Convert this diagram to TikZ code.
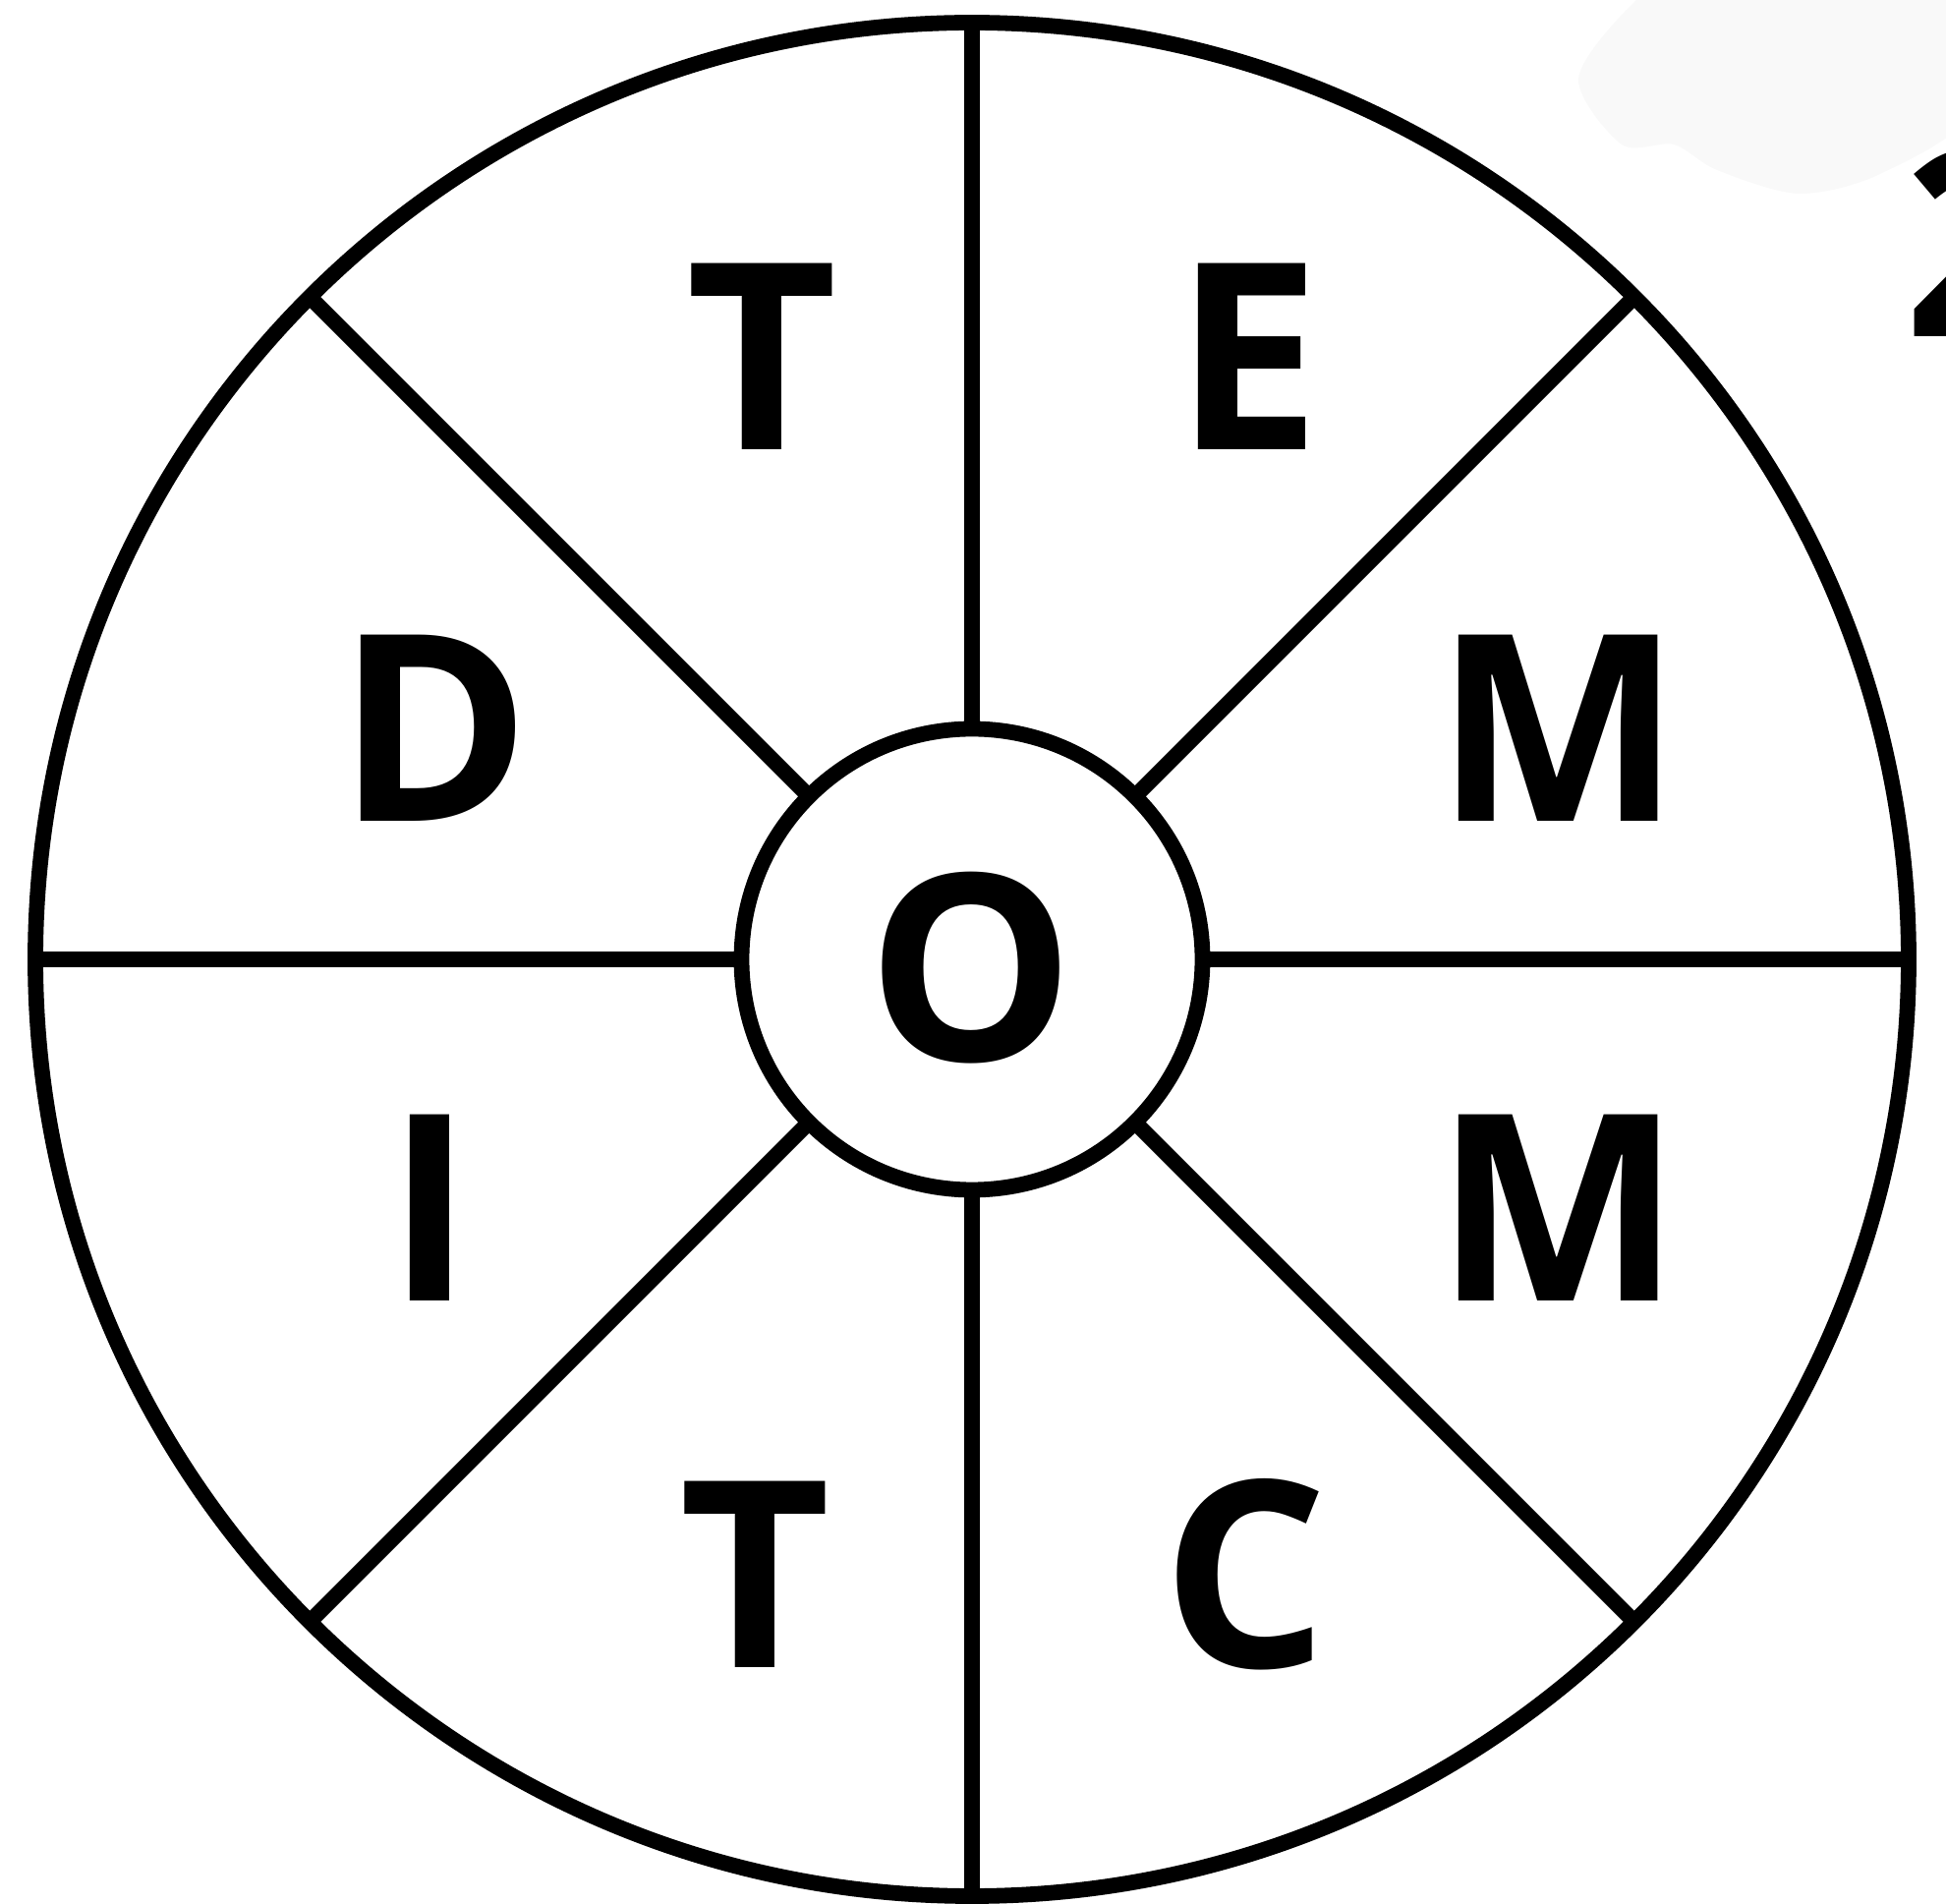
\documentclass[tikz,border=0pt]{standalone}
\usepackage{fontspec}
\setmainfont{Open Sans}
\usepackage{tikz}
\usetikzlibrary{positioning}

\begin{document}
\begin{tikzpicture}[
  x=0.1mm, y=0.1mm,
  ring/.style={circle,draw,line width=4.5pt,outer sep=0pt,inner sep=0pt},
  ray/.style={fill=black,rectangle,minimum width=71.85mm,minimum height=4.5pt,inner sep=0pt,outer sep=0pt},
  letter/.style={font=\fontsize{75.5}{75.5}\selectfont\bfseries,anchor=base,inner sep=0pt},
  smudge/.style={fill=black!2.5}
]
  \useasboundingbox (0,0) rectangle (1980,1937);
  \begin{scope}
  \clip (0,0) rectangle (1980,1937);
  % faint smudge top right
  \fill[smudge] plot[smooth cycle] coordinates {(1660,1932) (1606,1857) (1650,1790) (1703,1790)
    (1747,1764) (1830,1740) (1913,1760) (2010,1827) (2010,1967) (1720,1967)};
  \node[letter,anchor=base west] (two) at (1937,1594) {2};
  \end{scope}
  % wheel
  \node[ring,minimum size=190.6mm] (rim) at (989,961) {};
  \node[ring,minimum size=46.9mm] (hub) at (989,961) {};
  \foreach \a in {0,45,...,315}
    \path (hub.\a) -- (rim.\a) node[ray,midway,sloped] (ray\a) {};
  % letters
  \node[letter] (centre) at (988,857) {O};
  \foreach \n/\t/\x/\y in {tt/T/775/1479, te/E/1270/1479, td/D/442/1101, tm/M/1586/1101,
      bi/I/437/613, bm/M/1586/613, bt/T/768/240, bc/C/1267/240}
    \node[letter] (\n) at (\x,\y) {\t};
\end{tikzpicture}
\end{document}
